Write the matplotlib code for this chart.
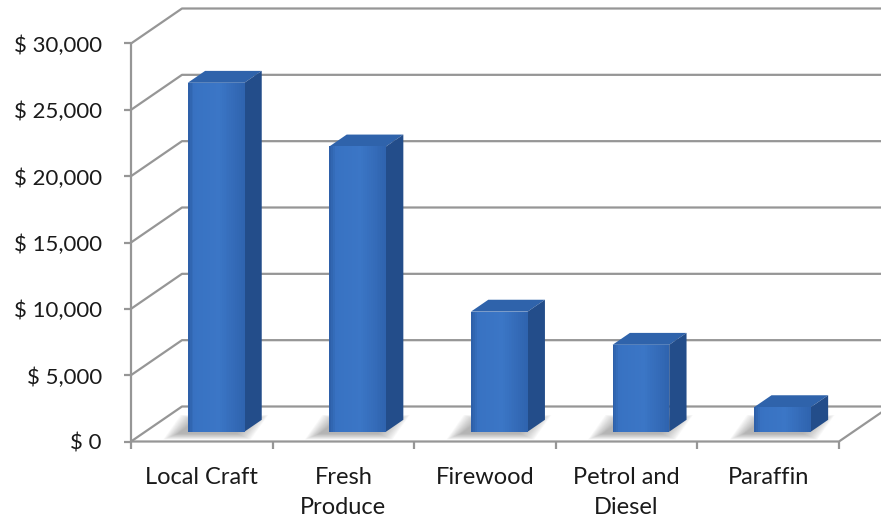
import numpy as np
import matplotlib.pyplot as plt
from matplotlib.patches import Polygon
from matplotlib.transforms import IdentityTransform
from matplotlib.colors import to_rgb

plt.rcParams['font.family'] = ['Lato', 'DejaVu Sans']

# sales by product group
categories = ['Local Craft', 'Fresh\nProduce', 'Firewood', 'Petrol and\nDiesel', 'Paraffin']
values = [26300, 21500, 9050, 6550, 1850]
yticks = [0, 5000, 10000, 15000, 20000, 25000, 30000]
ytick_labels = ['$ 0', '$ 5,000', '$ 10,000', '$ 15,000', '$ 20,000', '$ 25,000', '$ 30,000']

W, H = 881, 519
fig = plt.figure(figsize=(W / 100, H / 100), dpi=100)
ax = fig.add_axes([131 / W, (H - 441.5) / H, 708 / W, 398 / H])
ax.set_xlim(-0.5, len(categories) - 0.5)
ax.set_ylim(0, 30000)
ax.axis('off')

DX, DY = 51, 35          # floor depth in pixels (right, up)
F0, F1 = 0.28, 0.62      # front / back of the columns as a fraction of the depth
HW = 0.2                 # half column width in category units
GRID = '#969696'
TEXT = '#1a1a1a'
ident = IdentityTransform()
x0, x1 = -0.5, len(categories) - 0.5


def pt(x, v, f=0.0):
    px, py = ax.transData.transform((x, v))
    return (px + f * DX, py + f * DY)


def line(points, **kw):
    xs, ys = zip(*points)
    fig.add_artist(plt.Line2D(xs, ys, transform=ident, color=GRID, lw=1.6,
                              solid_capstyle='butt', **kw))


# walls: side wall + back wall gridlines
for t, lab in zip(yticks, ytick_labels):
    line([pt(x0, t), pt(x0, t, 1), pt(x1, t, 1)])
    # tick mark on the value axis
    a = pt(x0, t)
    line([(a[0] - 7, a[1]), a])
    fig.text(a[0] - 29, a[1] - 2.5, lab, transform=ident,
             ha='right', va='center', fontsize=16, color=TEXT)

# value axis and floor edges
line([pt(x0, 0), pt(x0, yticks[-1])])
line([pt(x0, 0), pt(x1, 0), pt(x1, 0, 1)])
for i in range(len(categories) + 1):
    a = pt(x0 + i, 0)
    line([a, (a[0], a[1] - 7)])

# category labels
for i, c in enumerate(categories):
    a = pt(i, 0)
    fig.text(a[0], a[1] - 25.5, c, transform=ident, ha='center', va='top',
             fontsize=17, color=TEXT, linespacing=1.55)


def face(points, color, z):
    fig.add_artist(Polygon(points, closed=True, transform=ident, facecolor=color,
                           edgecolor='none', zorder=z))


def blend(c1, c2, t):
    a, b = np.array(to_rgb(c1)), np.array(to_rgb(c2))
    return tuple(a + (b - a) * t)


front_stops = [(0.0, '#2c5da5'), (0.12, '#3872c2'), (0.55, '#3b76c6'), (1.0, '#2f63ae')]


def front_color(t):
    for (ta, ca), (tb, cb) in zip(front_stops[:-1], front_stops[1:]):
        if t <= tb:
            return blend(ca, cb, (t - ta) / (tb - ta))
    return to_rgb(front_stops[-1][1])


for i, v in enumerate(values):
    # soft shadow on the floor
    base = np.array([pt(i - HW, 0, F0), pt(i + HW, 0, F0), pt(i + HW, 0, F1), pt(i - HW, 0, F1)])
    cen = base.mean(axis=0)
    for k in range(14, 0, -1):
        grow = np.array([k * 1.1, k * 0.45])
        shp = base + np.sign(base - cen) * grow + np.array([-9, -1.5])
        face(shp, (0.4, 0.4, 0.4, 0.045), 2)

    # top face
    face([pt(i - HW, v, F0), pt(i + HW, v, F0), pt(i + HW, v, F1), pt(i - HW, v, F1)], '#2f63ab', 4)
    # side face
    face([pt(i + HW, 0, F0), pt(i + HW, 0, F1), pt(i + HW, v, F1), pt(i + HW, v, F0)], '#234d8a', 4)
    # front face, shaded in vertical strips
    n = 30
    edges = np.linspace(i - HW, i + HW, n + 1)
    for j in range(n):
        face([pt(edges[j], 0, F0), pt(edges[j + 1] + 0.002, 0, F0),
              pt(edges[j + 1] + 0.002, v, F0), pt(edges[j], v, F0)],
             front_color((j + 0.5) / n), 5)

fig.savefig('out.png', dpi=100, facecolor='white')
